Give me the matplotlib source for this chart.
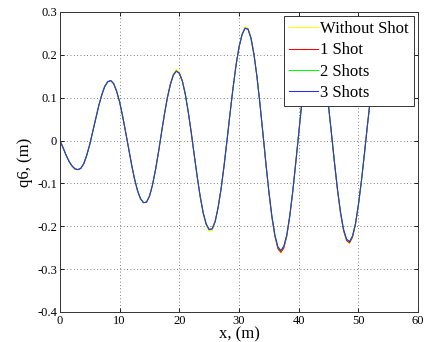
import numpy as np
import matplotlib
matplotlib.use("Agg")
import matplotlib.pyplot as plt

# positions along the beam, 0 to 53 m every 0.5 m
x_pos = np.arange(0, 53.5, 0.5)

q6_3_shots = [
    0.000, -0.016, -0.033, -0.048, -0.059, -0.066, -0.068, -0.065, -0.054, -0.034,
    -0.009, 0.021, 0.051, 0.081, 0.106, 0.126, 0.137, 0.140, 0.133, 0.115,
    0.090, 0.057, 0.020, -0.018, -0.056, -0.090, -0.117, -0.136, -0.145, -0.144,
    -0.130, -0.104, -0.069, -0.028, 0.017, 0.061, 0.100, 0.131, 0.153, 0.162,
    0.157, 0.139, 0.108, 0.066, 0.018, -0.034, -0.085, -0.131, -0.169, -0.195,
    -0.208, -0.206, -0.189, -0.156, -0.112, -0.058, 0.002, 0.064, 0.123, 0.176,
    0.218, 0.247, 0.262, 0.260, 0.239, 0.201, 0.149, 0.086, 0.017, -0.053,
    -0.119, -0.176, -0.220, -0.248, -0.257, -0.247, -0.220, -0.175, -0.118, -0.052,
    0.017, 0.086, 0.147, 0.196, 0.231, 0.248, 0.247, 0.227, 0.190, 0.140,
    0.079, 0.014, -0.053, -0.115, -0.167, -0.207, -0.230, -0.236, -0.223, -0.194,
    -0.149, -0.094, -0.031, 0.035, 0.098, 0.153, 0.198,
]

q6_2_shots = [
    0.000, -0.016, -0.033, -0.048, -0.059, -0.066, -0.068, -0.065, -0.054, -0.034,
    -0.009, 0.021, 0.051, 0.081, 0.106, 0.126, 0.137, 0.140, 0.133, 0.115,
    0.090, 0.057, 0.020, -0.018, -0.056, -0.090, -0.117, -0.136, -0.145, -0.144,
    -0.130, -0.104, -0.069, -0.028, 0.017, 0.061, 0.100, 0.131, 0.153, 0.162,
    0.157, 0.139, 0.108, 0.066, 0.018, -0.034, -0.085, -0.131, -0.169, -0.195,
    -0.208, -0.206, -0.189, -0.156, -0.112, -0.058, 0.002, 0.064, 0.123, 0.176,
    0.218, 0.247, 0.262, 0.260, 0.239, 0.201, 0.149, 0.086, 0.017, -0.053,
    -0.119, -0.176, -0.220, -0.248, -0.257, -0.247, -0.220, -0.175, -0.118, -0.052,
    0.017, 0.086, 0.147, 0.196, 0.231, 0.248, 0.247, 0.227, 0.190, 0.140,
    0.079, 0.014, -0.053, -0.115, -0.167, -0.207, -0.230, -0.236, -0.223, -0.194,
    -0.149, -0.094, -0.031, 0.035, 0.098, 0.153, 0.198,
]

q6_1_shot = [
    0.000, -0.016, -0.033, -0.048, -0.059, -0.066, -0.068, -0.065, -0.054, -0.034,
    -0.009, 0.021, 0.051, 0.081, 0.106, 0.126, 0.137, 0.140, 0.133, 0.115,
    0.090, 0.057, 0.020, -0.018, -0.056, -0.090, -0.117, -0.136, -0.145, -0.144,
    -0.130, -0.104, -0.069, -0.028, 0.017, 0.061, 0.100, 0.131, 0.153, 0.162,
    0.157, 0.139, 0.108, 0.066, 0.018, -0.034, -0.085, -0.131, -0.169, -0.195,
    -0.208, -0.206, -0.189, -0.156, -0.112, -0.058, 0.002, 0.064, 0.123, 0.176,
    0.218, 0.247, 0.262, 0.260, 0.239, 0.201, 0.149, 0.086, 0.016, -0.055,
    -0.121, -0.179, -0.223, -0.252, -0.261, -0.251, -0.223, -0.177, -0.119, -0.052,
    0.017, 0.087, 0.149, 0.199, 0.234, 0.251, 0.250, 0.230, 0.192, 0.141,
    0.079, 0.013, -0.054, -0.117, -0.170, -0.210, -0.233, -0.239, -0.226, -0.196,
    -0.150, -0.094, -0.031, 0.035, 0.098, 0.153, 0.198,
]

q6_without = [
    0.000, -0.016, -0.033, -0.048, -0.059, -0.066, -0.068, -0.065, -0.054, -0.034,
    -0.009, 0.021, 0.051, 0.081, 0.106, 0.126, 0.137, 0.140, 0.133, 0.115,
    0.090, 0.057, 0.020, -0.018, -0.056, -0.090, -0.117, -0.136, -0.145, -0.144,
    -0.130, -0.104, -0.069, -0.028, 0.017, 0.062, 0.102, 0.134, 0.156, 0.166,
    0.161, 0.142, 0.110, 0.067, 0.018, -0.035, -0.087, -0.134, -0.172, -0.199,
    -0.212, -0.210, -0.192, -0.158, -0.113, -0.058, 0.003, 0.066, 0.125, 0.179,
    0.221, 0.250, 0.265, 0.263, 0.242, 0.203, 0.150, 0.086, 0.016, -0.055,
    -0.122, -0.180, -0.224, -0.253, -0.262, -0.252, -0.224, -0.178, -0.119, -0.052,
    0.017, 0.087, 0.150, 0.200, 0.235, 0.252, 0.251, 0.231, 0.193, 0.141,
    0.079, 0.013, -0.055, -0.118, -0.171, -0.211, -0.234, -0.240, -0.227, -0.197,
    -0.151, -0.095, -0.031, 0.035, 0.098, 0.153, 0.198,
]

labels = ["Without Shot", "1 Shot", "2 Shots", "3 Shots"]
colors = ["#ffff00", "#ff0000", "#00ff00", "#2a2aff"]

plt.rcParams["font.family"] = ["Liberation Serif", "DejaVu Serif"]

fig = plt.figure(figsize=(4.28, 3.42), dpi=100)
ax = fig.add_axes([0.140, 0.088, 0.837, 0.877])

for series, label, color in zip([q6_without, q6_1_shot, q6_2_shots, q6_3_shots], labels, colors):
    ax.plot(x_pos, series, color=color, lw=0.75, label=label)

ax.set_xlim(0, 60)
ax.set_ylim(-0.4, 0.3)
ax.set_xticks(np.arange(0, 61, 10))
ax.set_xticklabels([str(v) for v in range(0, 61, 10)])
ax.set_yticks(np.arange(-0.4, 0.31, 0.1))
ax.set_yticklabels(["-0.4", "-0.3", "-0.2", "-0.1", "0", "0.1", "0.2", "0.3"])
ax.grid(True, linestyle=(0, (1, 3)), color="#555555", lw=0.6)
ax.tick_params(direction="in", top=True, right=True, labelsize=9, length=3, width=0.6, pad=2)
for spine in ax.spines.values():
    spine.set_linewidth(0.7)
    spine.set_color("#333333")

ax.set_xlabel("x, (m)", fontsize=12, labelpad=0)
ax.set_ylabel("q6, (m)", fontsize=12, labelpad=3)

leg = ax.legend(loc="upper right", fontsize=12, frameon=True, fancybox=False,
                framealpha=1, edgecolor="#333333", handlelength=1.75,
                handletextpad=0.15, labelspacing=0.32, borderpad=0.3,
                borderaxespad=0.25)
leg.get_frame().set_linewidth(0.7)

fig.savefig("out.png", dpi=100)
